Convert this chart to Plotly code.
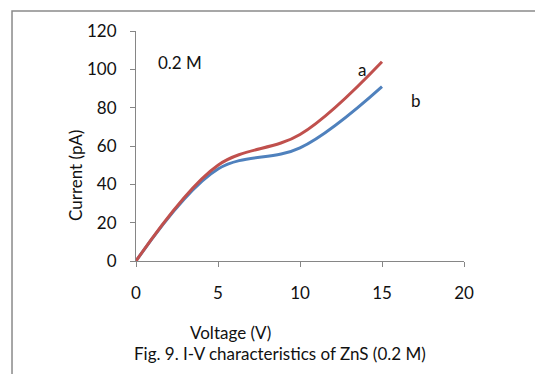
import plotly.graph_objects as go

voltage = [0, 5, 10, 15]
current_a = [0, 50, 66, 104]
current_b = [0, 48, 59, 91]
x_ticks = [0, 5, 10, 15, 20]
y_ticks = [0, 20, 40, 60, 80, 100, 120]

FONT = "Lato, Carlito, Calibri, sans-serif"
fig = go.Figure()
fig.add_trace(go.Scatter(x=voltage, y=current_b, mode="lines",
                         line=dict(color="#4F81BD", width=3, shape="spline", smoothing=1.0)))
fig.add_trace(go.Scatter(x=voltage, y=current_a, mode="lines",
                         line=dict(color="#C0504D", width=3, shape="spline", smoothing=1.0)))

axis_common = dict(showgrid=False, zeroline=False, showline=True, linecolor="#868686",
                   linewidth=1, ticks="outside", ticklen=5, tickcolor="#868686",
                   tickfont=dict(family=FONT, size=17, color="#111"))
fig.update_xaxes(range=[0, 20], tickvals=x_ticks, ticklabelstandoff=12, **axis_common)
fig.update_yaxes(range=[0, 120], tickvals=y_ticks, ticklabelstandoff=10, **axis_common)

fig.add_shape(type="rect", xref="paper", yref="paper", x0=-0.378, x1=1.6, y0=-1.0, y1=1.087,
              line=dict(color="#8a8a8a", width=1.5), layer="below")

tf = dict(family=FONT, size=17, color="#111")
c = dict(showarrow=False, font=tf, xanchor="center", yanchor="middle")
fig.add_annotation(x=2.7, y=103.5, text="0.2 M", **c)
fig.add_annotation(x=13.8, y=100, text="a", **c)
fig.add_annotation(x=17.1, y=84, text="b", **c)
fig.add_annotation(xref="paper", yref="paper", x=-0.183, y=0.374, text="Current (pA)",
                   textangle=-90, **c)
fig.add_annotation(xref="paper", yref="paper", x=0.287, y=-0.31, text="Voltage (V)", **c)
fig.add_annotation(xref="paper", yref="paper", x=0.439, y=-0.404,
                   text="Fig. 9. I-V characteristics of ZnS (0.2 M)", **c)

fig.update_layout(width=535, height=374, margin=dict(l=136, r=71, t=31, b=113),
                  paper_bgcolor="white", plot_bgcolor="white", showlegend=False)
fig.write_html("out.html")
